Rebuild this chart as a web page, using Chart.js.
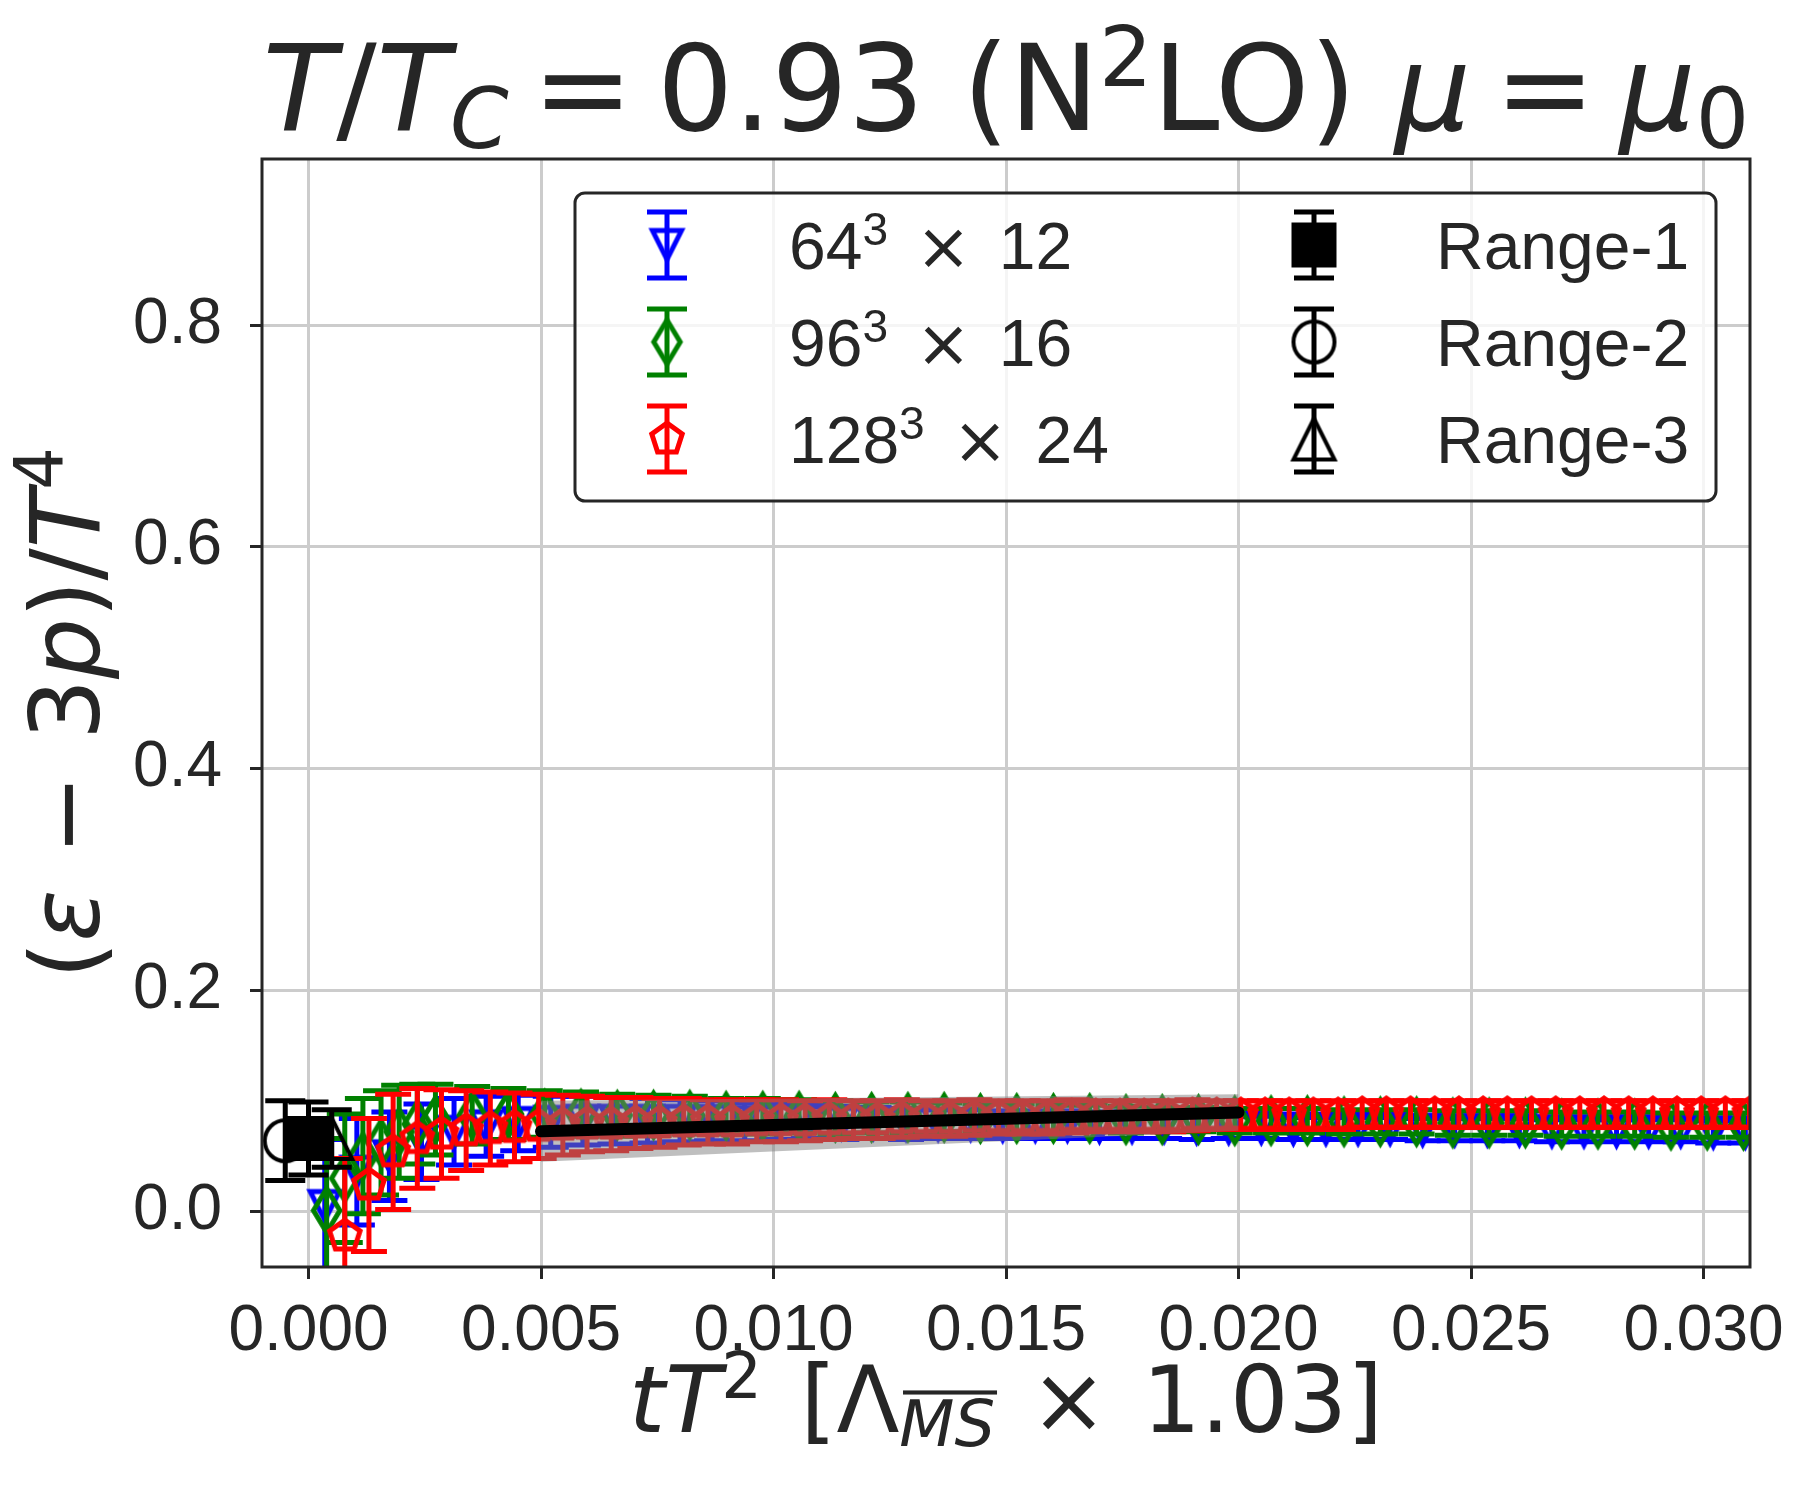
<!DOCTYPE html>
<html>
<head>
<meta charset="utf-8">
<title>trace anomaly T/Tc = 0.93</title>
<script src="https://cdn.jsdelivr.net/npm/chart.js@4.4.1/dist/chart.umd.min.js"></script>
<style>
  html, body { margin: 0; padding: 0; background: #fff; }
  canvas { display: block; }
</style>
</head>
<body>
<canvas id="chart" width="1803" height="1502"></canvas>
<script>
// tick labels
const xTickLabels = ['0.000', '0.005', '0.010', '0.015', '0.020', '0.025', '0.030'];
const yTickLabels = ['0.0', '0.2', '0.4', '0.6', '0.8'];

// 64^3 x 12
const blueX = [0.00035, 0.00104, 0.00174, 0.00243, 0.00313, 0.00382, 0.00451, 0.00521, 0.00590, 0.00660,
  0.00729, 0.00799, 0.00868, 0.00938, 0.01007, 0.01076, 0.01146, 0.01215, 0.01285, 0.01354,
  0.01424, 0.01493, 0.01563, 0.01632, 0.01701, 0.01771, 0.01840, 0.01910, 0.01979, 0.02049,
  0.02118, 0.02188, 0.02257, 0.02326, 0.02396, 0.02465, 0.02535, 0.02604, 0.02674, 0.02743,
  0.02813, 0.02882, 0.02951, 0.03021, 0.03090];
const blueY = [0.005, 0.036, 0.050, 0.063, 0.072, 0.077, 0.080, 0.081, 0.082, 0.082,
  0.082, 0.082, 0.082, 0.081, 0.081, 0.081, 0.080, 0.080, 0.079, 0.079,
  0.079, 0.078, 0.078, 0.078, 0.077, 0.077, 0.077, 0.076, 0.076, 0.076,
  0.075, 0.075, 0.075, 0.075, 0.074, 0.074, 0.074, 0.074, 0.073, 0.073,
  0.073, 0.073, 0.073, 0.072, 0.072];
const blueErr = [0.060, 0.048, 0.040, 0.034, 0.030, 0.027, 0.025, 0.023, 0.022, 0.021,
  0.020, 0.019, 0.018, 0.017, 0.016, 0.015, 0.015, 0.014, 0.014, 0.013,
  0.013, 0.012, 0.012, 0.012, 0.011, 0.011, 0.011, 0.011, 0.010, 0.010,
  0.010, 0.010, 0.010, 0.010, 0.010, 0.010, 0.010, 0.010, 0.010, 0.010,
  0.010, 0.010, 0.010, 0.010, 0.010];

// 96^3 x 16
const greenX = [0.00039, 0.00078, 0.00117, 0.00156, 0.00195, 0.00234, 0.00273, 0.00352, 0.00430, 0.00508,
  0.00586, 0.00664, 0.00742, 0.00820, 0.00898, 0.00977, 0.01055, 0.01133, 0.01211, 0.01289,
  0.01367, 0.01445, 0.01523, 0.01602, 0.01680, 0.01758, 0.01836, 0.01914, 0.01992, 0.02070,
  0.02148, 0.02227, 0.02305, 0.02383, 0.02461, 0.02539, 0.02617, 0.02695, 0.02773, 0.02852,
  0.02930, 0.03008, 0.03086];
const greenY = [0.001, 0.030, 0.050, 0.062, 0.072, 0.079, 0.083, 0.087, 0.088, 0.088,
  0.088, 0.087, 0.087, 0.087, 0.086, 0.086, 0.086, 0.085, 0.085, 0.085,
  0.085, 0.084, 0.084, 0.084, 0.084, 0.083, 0.083, 0.083, 0.082, 0.082,
  0.082, 0.081, 0.081, 0.081, 0.080, 0.080, 0.080, 0.079, 0.079, 0.079,
  0.078, 0.078, 0.078];
const greenErr = [0.065, 0.058, 0.052, 0.047, 0.042, 0.036, 0.032, 0.026, 0.023, 0.021,
  0.020, 0.019, 0.018, 0.017, 0.016, 0.016, 0.015, 0.015, 0.014, 0.014,
  0.013, 0.013, 0.013, 0.012, 0.012, 0.012, 0.011, 0.011, 0.011, 0.011,
  0.011, 0.011, 0.011, 0.011, 0.011, 0.011, 0.011, 0.011, 0.011, 0.011,
  0.011, 0.011, 0.011];

// 128^3 x 24
const redX = [0.00078, 0.00130, 0.00182, 0.00234, 0.00286, 0.00339, 0.00391, 0.00443, 0.00495, 0.00547,
  0.00599, 0.00651, 0.00703, 0.00755, 0.00807, 0.00859, 0.00911, 0.00964, 0.01016, 0.01068,
  0.01120, 0.01172, 0.01224, 0.01276, 0.01328, 0.01380, 0.01432, 0.01484, 0.01536, 0.01589,
  0.01641, 0.01693, 0.01745, 0.01797, 0.01849, 0.01901, 0.01953, 0.02005, 0.02057, 0.02109,
  0.02161, 0.02214, 0.02266, 0.02318, 0.02370, 0.02422, 0.02474, 0.02526, 0.02578, 0.02630,
  0.02682, 0.02734, 0.02786, 0.02839, 0.02891, 0.02943, 0.02995, 0.03047, 0.03099];
const redY = [-0.022, 0.024, 0.054, 0.066, 0.070, 0.073, 0.075, 0.076, 0.077, 0.078,
  0.079, 0.079, 0.080, 0.080, 0.081, 0.081, 0.081, 0.082, 0.082, 0.082,
  0.083, 0.083, 0.083, 0.084, 0.084, 0.084, 0.085, 0.085, 0.085, 0.085,
  0.086, 0.086, 0.086, 0.086, 0.086, 0.087, 0.087, 0.087, 0.087, 0.087,
  0.087, 0.087, 0.088, 0.088, 0.088, 0.088, 0.088, 0.088, 0.088, 0.088,
  0.088, 0.088, 0.088, 0.088, 0.088, 0.088, 0.088, 0.088, 0.088];
const redErr = [0.070, 0.060, 0.052, 0.045, 0.040, 0.036, 0.033, 0.031, 0.029, 0.027,
  0.025, 0.024, 0.023, 0.022, 0.021, 0.020, 0.020, 0.019, 0.019, 0.018,
  0.018, 0.017, 0.017, 0.017, 0.016, 0.016, 0.016, 0.015, 0.015, 0.015,
  0.015, 0.014, 0.014, 0.014, 0.014, 0.014, 0.013, 0.013, 0.013, 0.013,
  0.013, 0.013, 0.012, 0.012, 0.012, 0.012, 0.012, 0.012, 0.012, 0.012,
  0.012, 0.012, 0.012, 0.012, 0.012, 0.012, 0.012, 0.012, 0.012];

// continuum extrapolations, Range-1 / Range-2 / Range-3
const rangeX = [0.0, -0.0005, 0.0005];
const rangeY = [0.066, 0.064, 0.066];
const rangeErr = [0.033, 0.036, 0.026];

// fit line and its band
const fitX = [0.005, 0.020];
const fitY = [0.0725, 0.0895];
const bandLow = [0.045, 0.073];
const bandHigh = [0.100, 0.106];

const TEXT = '#262626';
const xTicks = xTickLabels.map(Number);
const yTicks = yTickLabels.map(Number);
const pts = (xs, ys) => xs.map((x, i) => ({ x: x, y: ys[i] }));

// marker pictures, drawn once
const marker = (shape, color, size, lw, filled) => {
  const r = size / 2;
  const ext = shape === 'thin_diamond' ? r * 1.42 : r;
  const s = Math.ceil(2 * ext + 2 * lw + 4);
  const c = document.createElement('canvas');
  c.width = s; c.height = s;
  const g = c.getContext('2d');
  g.translate(s / 2, s / 2);
  g.beginPath();
  if (shape === 'tri_down') {
    g.moveTo(-r, -r); g.lineTo(r, -r); g.lineTo(0, r); g.closePath();
  } else if (shape === 'tri_up') {
    g.moveTo(-r, r); g.lineTo(r, r); g.lineTo(0, -r); g.closePath();
  } else if (shape === 'thin_diamond') {
    const h = r * 1.42, w = h * 0.6;
    g.moveTo(0, -h); g.lineTo(w, 0); g.lineTo(0, h); g.lineTo(-w, 0); g.closePath();
  } else if (shape === 'pentagon') {
    for (let k = 0; k < 5; k++) {
      const a = -Math.PI / 2 + k * 2 * Math.PI / 5;
      if (k === 0) g.moveTo(r * Math.cos(a), r * Math.sin(a));
      else g.lineTo(r * Math.cos(a), r * Math.sin(a));
    }
    g.closePath();
  } else if (shape === 'square') {
    g.rect(-r, -r, 2 * r, 2 * r);
  } else {
    g.arc(0, 0, r, 0, 2 * Math.PI);
  }
  if (filled) { g.fillStyle = color; g.fill(); }
  g.lineWidth = lw;
  g.lineJoin = 'miter';
  g.strokeStyle = color;
  g.stroke();
  return c;
};

const mBlue = marker('tri_down', '#0000ff', 29, 5, false);
const mGreen = marker('thin_diamond', '#008000', 31, 5, false);
const mRed = marker('pentagon', '#ff0000', 32, 5, false);
const mSquare = marker('square', '#000000', 41, 4, true);
const mCircle = marker('circle', '#000000', 41, 4, false);
const mTri = marker('tri_up', '#000000', 41, 4, false);

// error bars under each dataset's markers
const errorBars = {
  id: 'errorBars',
  beforeDatasetDraw(chart, args) {
    const ds = chart.data.datasets[args.index];
    if (!ds.errors) return;
    const yScale = chart.scales.y;
    const ctx = chart.ctx;
    const a = chart.chartArea;
    ctx.save();
    if (ds.clip !== false) {
      ctx.beginPath();
      ctx.rect(a.left, a.top, a.right - a.left, a.bottom - a.top);
      ctx.clip();
    }
    ctx.strokeStyle = ds.borderColor;
    ctx.lineWidth = 5;
    const h = ds.capWidth / 2;
    args.meta.data.forEach((p, i) => {
      const v = ds.data[i].y, e = ds.errors[i];
      const top = yScale.getPixelForValue(v + e);
      const bot = yScale.getPixelForValue(v - e);
      ctx.beginPath();
      ctx.moveTo(p.x, top); ctx.lineTo(p.x, bot);
      ctx.moveTo(p.x - h, top); ctx.lineTo(p.x + h, top);
      ctx.moveTo(p.x - h, bot); ctx.lineTo(p.x + h, bot);
      ctx.stroke();
    });
    ctx.restore();
  }
};

const frame = {
  id: 'frame',
  afterDatasetsDraw(chart) {
    const a = chart.chartArea, ctx = chart.ctx;
    ctx.save();
    ctx.strokeStyle = TEXT;
    ctx.lineWidth = 3;
    ctx.strokeRect(a.left, a.top, a.right - a.left, a.bottom - a.top);
    ctx.restore();
  }
};

// text made of pieces: italic, sub/superscript, overline, and fixed gaps (in em)
const drawRich = (ctx, segs, x, y, size, family, align) => {
  const fontOf = s => (s.it ? 'italic ' : '') + Math.round(s.sub || s.sup ? size * 0.7 : size) + 'px ' + (s.fam || family);
  let total = 0;
  const widths = segs.map(s => {
    let w;
    if (s.gap) w = s.gap * size;
    else { ctx.font = fontOf(s); w = ctx.measureText(s.t).width; }
    total += w;
    return w;
  });
  let cx = align === 'left' ? x : x - total / 2;
  ctx.textAlign = 'left';
  ctx.textBaseline = 'alphabetic';
  segs.forEach((s, i) => {
    if (!s.gap) {
      ctx.font = fontOf(s);
      const dy = s.sub ? size * 0.15 : (s.sup ? -size * 0.37 : 0);
      ctx.fillText(s.t, cx, y + dy);
      if (s.over) {
        const oy = y + dy - size * 0.7 * 0.86;
        ctx.fillRect(cx + size * 0.04, oy, widths[i] - size * 0.02, size * 0.045);
      }
    }
    cx += widths[i];
  });
};

const DJ = '"DejaVu Sans"';
const LS = '"Liberation Sans"';
const titleSegs = [
  { t: 'T', it: 1 }, { t: '/' }, { t: 'T', it: 1 }, { t: 'C', it: 1, sub: 1 },
  { gap: 0.2 }, { t: '=' }, { gap: 0.2 }, { t: '0.93 (N' }, { t: '2', sup: 1 }, { t: 'LO) ' },
  { t: 'μ', it: 1 }, { gap: 0.2 }, { t: '=' }, { gap: 0.2 }, { t: 'μ', it: 1 }, { t: '0', sub: 1 }
];
const xLabelSegs = [
  { t: 't', it: 1 }, { t: 'T', it: 1 }, { t: '2', sup: 1 }, { gap: 0.1 }, { t: ' [Λ' },
  { t: 'MS', it: 1, sub: 1, over: 1 }, { gap: 0.38 }, { t: '×' }, { gap: 0.38 }, { t: '1.03]' }
];
const yLabelSegs = [
  { t: '(' }, { t: 'ε', it: 1 }, { gap: 0.36 }, { t: '−' }, { gap: 0.36 }, { t: '3' }, { t: 'p', it: 1 }, { t: ')/' },
  { t: 'T', it: 1 }, { t: '4', sup: 1 }
];

const labels = {
  id: 'labels',
  afterDraw(chart) {
    const ctx = chart.ctx;
    const a = chart.chartArea;
    const mid = (a.left + a.right) / 2;
    ctx.save();
    ctx.fillStyle = TEXT;
    drawRich(ctx, titleSegs, mid, 130, 120, DJ);
    drawRich(ctx, xLabelSegs, mid, 1432, 92, DJ);
    ctx.translate(99, (a.top + a.bottom) / 2);
    ctx.rotate(-Math.PI / 2);
    drawRich(ctx, yLabelSegs, 0, 0, 96, DJ);
    ctx.restore();
  }
};

const sizeLabel = (a, b) => [
  { t: a }, { t: '3', sup: 1 }, { gap: 0.42 }, { t: '×', fam: DJ }, { gap: 0.42 }, { t: b }
];

const legendBox = {
  id: 'legendBox',
  afterDraw(chart) {
    const ctx = chart.ctx;
    const x0 = 575, y0 = 193, w = 1141, h = 308, r = 10;
    ctx.save();
    ctx.beginPath();
    ctx.moveTo(x0 + r, y0);
    ctx.arcTo(x0 + w, y0, x0 + w, y0 + h, r);
    ctx.arcTo(x0 + w, y0 + h, x0, y0 + h, r);
    ctx.arcTo(x0, y0 + h, x0, y0, r);
    ctx.arcTo(x0, y0, x0 + w, y0, r);
    ctx.closePath();
    ctx.fillStyle = 'rgba(255,255,255,0.8)';
    ctx.fill();
    ctx.lineWidth = 3;
    ctx.strokeStyle = TEXT;
    ctx.stroke();

    const items = [
      { col: 0, row: 0, color: '#0000ff', img: mBlue, segs: sizeLabel('64', '12') },
      { col: 0, row: 1, color: '#008000', img: mGreen, segs: sizeLabel('96', '16') },
      { col: 0, row: 2, color: '#ff0000', img: mRed, segs: sizeLabel('128', '24') },
      { col: 1, row: 0, color: '#000000', img: mSquare, segs: [{ t: 'Range-1' }] },
      { col: 1, row: 1, color: '#000000', img: mCircle, segs: [{ t: 'Range-2' }] },
      { col: 1, row: 2, color: '#000000', img: mTri, segs: [{ t: 'Range-3' }] }
    ];
    const mx = [667, 1314], tx = [789, 1436];
    items.forEach(it => {
      const cy = 245 + 97 * it.row;
      const cx = mx[it.col];
      ctx.strokeStyle = it.color;
      ctx.lineWidth = 5;
      ctx.beginPath();
      ctx.moveTo(cx, cy - 33); ctx.lineTo(cx, cy + 33);
      ctx.moveTo(cx - 20, cy - 33); ctx.lineTo(cx + 20, cy - 33);
      ctx.moveTo(cx - 20, cy + 33); ctx.lineTo(cx + 20, cy + 33);
      ctx.stroke();
      ctx.drawImage(it.img, cx - it.img.width / 2, cy - it.img.height / 2);
      ctx.fillStyle = TEXT;
      drawRich(ctx, it.segs, tx[it.col], cy + 24, 66, LS, 'left');
    });
    ctx.restore();
  }
};

const tickFont = { family: 'Liberation Sans', size: 64 };

new Chart(document.getElementById('chart').getContext('2d'), {
  type: 'scatter',
  data: {
    datasets: [
      { label: '64³ × 12', data: pts(blueX, blueY), errors: blueErr, capWidth: 36,
        borderColor: '#0000ff', pointStyle: mBlue, pointRadius: 18, clip: 0, order: 10 },
      { label: '96³ × 16', data: pts(greenX, greenY), errors: greenErr, capWidth: 36,
        borderColor: '#008000', pointStyle: mGreen, pointRadius: 18, clip: 0, order: 9 },
      { label: '128³ × 24', data: pts(redX, redY), errors: redErr, capWidth: 36,
        borderColor: '#ff0000', pointStyle: mRed, pointRadius: 18, clip: 0, order: 8 },
      { label: 'Range-1', data: pts([rangeX[0]], [rangeY[0]]), errors: [rangeErr[0]], capWidth: 40,
        borderColor: '#000000', pointStyle: mSquare, pointRadius: 22, clip: false, order: 7 },
      { label: 'Range-2', data: pts([rangeX[1]], [rangeY[1]]), errors: [rangeErr[1]], capWidth: 40,
        borderColor: '#000000', pointStyle: mCircle, pointRadius: 22, clip: false, order: 6 },
      { label: 'Range-3', data: pts([rangeX[2]], [rangeY[2]]), errors: [rangeErr[2]], capWidth: 40,
        borderColor: '#000000', pointStyle: mTri, pointRadius: 22, clip: false, order: 5 },
      { type: 'line', label: 'band high', data: pts(fitX, bandHigh), borderWidth: 0, pointRadius: 0,
        fill: '+1', backgroundColor: 'rgba(128,128,128,0.5)', order: 4 },
      { type: 'line', label: 'band low', data: pts(fitX, bandLow), borderWidth: 0, pointRadius: 0,
        fill: false, order: 3 },
      { type: 'line', label: 'fit', data: pts(fitX, fitY), borderColor: '#000000', borderWidth: 12,
        borderCapStyle: 'round', pointRadius: 0, fill: false, order: 1 }
    ]
  },
  options: {
    responsive: false,
    animation: false,
    devicePixelRatio: 1,
    layout: { padding: { top: 159, right: 53, left: 0, bottom: 0 } },
    plugins: {
      legend: { display: false },
      tooltip: { enabled: false },
      title: { display: false }
    },
    scales: {
      x: {
        type: 'linear',
        min: -0.001,
        max: 0.031,
        afterBuildTicks: s => { s.ticks = xTicks.map(v => ({ value: v })); },
        afterFit: s => { s.height = 235; },
        ticks: {
          autoSkip: false, maxRotation: 0, padding: 15, color: TEXT, font: tickFont,
          callback: v => xTickLabels[xTicks.indexOf(v)]
        },
        grid: { color: '#cccccc', lineWidth: 3, tickLength: 12, tickColor: TEXT, tickWidth: 3 },
        border: { display: false }
      },
      y: {
        min: -0.05,
        max: 0.95,
        afterBuildTicks: s => { s.ticks = yTicks.map(v => ({ value: v })); },
        afterFit: s => { s.width = 262; },
        ticks: {
          padding: 28, color: TEXT, font: tickFont,
          callback: v => yTickLabels[yTicks.indexOf(v)]
        },
        grid: { color: '#cccccc', lineWidth: 3, tickLength: 12, tickColor: TEXT, tickWidth: 3 },
        border: { display: false }
      }
    }
  },
  plugins: [errorBars, frame, legendBox, labels]
});
</script>
</body>
</html>
